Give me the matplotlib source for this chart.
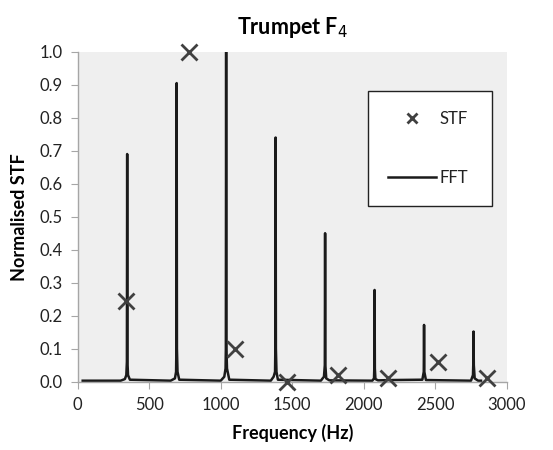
import matplotlib
matplotlib.use("Agg")
import matplotlib.pyplot as plt

# STF points
stf_freq = [338, 781, 1100, 1461, 1823, 2172, 2517, 2860]
stf_val = [0.245, 1.0, 0.10, 0.0, 0.02, 0.01, 0.06, 0.012]

# FFT spectrum key points
fft_freq = [35, 300, 330, 340, 344, 346, 348, 352, 365,
            650, 680, 688, 690, 692, 694, 698, 710,
            1000, 1025, 1034, 1036, 1038, 1040, 1044, 1060,
            1350, 1370, 1380, 1382, 1384, 1386, 1390, 1400,
            1700, 1722, 1728, 1730, 1732, 1738, 1760,
            2060, 2072, 2074, 2076, 2078, 2082, 2100, 2200,
            2410, 2420, 2422, 2424, 2435,
            2750, 2764, 2766, 2768, 2770, 2776, 2800, 2820]
fft_amp = [0.003, 0.003, 0.008, 0.02, 0.06, 0.69, 0.06, 0.02, 0.006,
           0.003, 0.01, 0.03, 0.1, 0.905, 0.1, 0.03, 0.006,
           0.003, 0.015, 0.04, 0.1, 1.0, 0.1, 0.04, 0.006,
           0.003, 0.015, 0.03, 0.1, 0.74, 0.1, 0.03, 0.006,
           0.003, 0.015, 0.05, 0.45, 0.05, 0.01, 0.004,
           0.003, 0.01, 0.04, 0.278, 0.04, 0.008, 0.004, 0.005,
           0.006, 0.03, 0.172, 0.03, 0.005,
           0.003, 0.02, 0.05, 0.152, 0.05, 0.01, 0.003, 0.003]

x_ticks = [0, 500, 1000, 1500, 2000, 2500, 3000]
y_ticks = [0.0, 0.1, 0.2, 0.3, 0.4, 0.5, 0.6, 0.7, 0.8, 0.9, 1.0]

plt.rcParams['font.family'] = ['Lato', 'DejaVu Sans']

fig = plt.figure(figsize=(5.53, 4.5), dpi=100)
ax = fig.add_axes([0.1405, 0.1518, 0.7758, 0.7332])
ax.set_facecolor('#efefef')

ax.plot(fft_freq, fft_amp, color='#1a1a1a', lw=1.8, label='FFT', zorder=2)
ax.plot(stf_freq, stf_val, linestyle='none', marker='x', markersize=12,
        mew=2, color='#404040', label='STF', zorder=3, clip_on=False)

ax.set_xlim(0, 3000)
ax.set_ylim(0, 1.0)
ax.set_xticks(x_ticks)
ax.set_yticks(y_ticks)
ax.set_yticklabels([f"{v:.1f}" for v in y_ticks])

for s in ['top', 'right']:
    ax.spines[s].set_visible(False)
for s in ['left', 'bottom']:
    ax.spines[s].set_color('#a6a6a6')
    ax.spines[s].set_linewidth(1)
ax.tick_params(axis='both', direction='out', length=5, color='#a6a6a6',
               labelsize=12, labelcolor='#222222', pad=6)

ax.set_title('Trumpet F$_4$', fontsize=15.5, fontweight='bold', pad=13)
ax.set_xlabel('Frequency (Hz)', fontsize=13, fontweight='bold', labelpad=8)
ax.set_ylabel('Normalised STF', fontsize=13, fontweight='bold', labelpad=8)

handles, labels = ax.get_legend_handles_labels()
leg = ax.legend([handles[1], handles[0]], [labels[1], labels[0]],
                loc='upper left', bbox_to_anchor=(0.677, 0.881, 0.289, 0.0),
                mode='expand', fancybox=False, frameon=True,
                edgecolor='#222222', facecolor='white', framealpha=1,
                fontsize=12, labelspacing=2.55, borderpad=1.2,
                handlelength=2.9, handletextpad=0.2, markerscale=0.65,
                borderaxespad=0)
leg.get_frame().set_linewidth(1)
for t in leg.get_texts():
    t.set_color('#222222')

fig.savefig('out.png', dpi=100, facecolor='white')
